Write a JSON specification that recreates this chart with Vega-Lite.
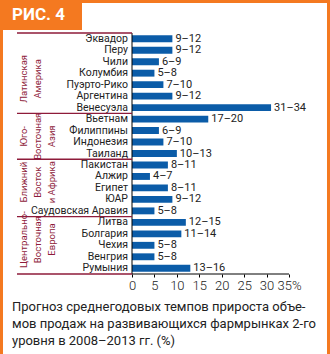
{
  "$schema": "https://vega.github.io/schema/vega-lite/v6.json",
  "background": "white",
  "padding": 0,
  "spacing": 0,
  "config": {"view": {"stroke": null}, "font": "Roboto", "concat": {"spacing": 0}},
  "datasets": {
    "rows": [
      {"country": "Эквадор", "low": 9, "range": "9–12"},
      {"country": "Перу", "low": 9, "range": "9–12"},
      {"country": "Чили", "low": 6, "range": "6–9"},
      {"country": "Колумбия", "low": 5, "range": "5–8"},
      {"country": "Пуэрто-Рико", "low": 7, "range": "7–10"},
      {"country": "Аргентина", "low": 9, "range": "9–12"},
      {"country": "Венесуэла", "low": 31, "range": "31–34"},
      {"country": "Вьетнам", "low": 17, "range": "17–20"},
      {"country": "Филиппины", "low": 6, "range": "6–9"},
      {"country": "Индонезия", "low": 7, "range": "7–10"},
      {"country": "Таиланд", "low": 10, "range": "10–13"},
      {"country": "Пакистан", "low": 8, "range": "8–11"},
      {"country": "Алжир", "low": 4, "range": "4–7"},
      {"country": "Египет", "low": 8, "range": "8–11"},
      {"country": "ЮАР", "low": 9, "range": "9–12"},
      {"country": "Саудовская Аравия", "low": 5, "range": "5–8"},
      {"country": "Литва", "low": 12, "range": "12–15"},
      {"country": "Болгария", "low": 11, "range": "11–14"},
      {"country": "Чехия", "low": 5, "range": "5–8"},
      {"country": "Венгрия", "low": 5, "range": "5–8"},
      {"country": "Румыния", "low": 13, "range": "13–16"}
    ],
    "groups": [
      {"country": "Пуэрто-Рико", "group": "Латинская|Америка"},
      {"country": "Индонезия", "group": "Юго-|Восточная|Азия"},
      {"country": "Египет", "group": "Ближний|Восток|и Африка"},
      {"country": "Чехия", "group": "Центрально-|Восточная|Европа"}
    ],
    "starts": [
      {"country": "Эквадор"},
      {"country": "Вьетнам"},
      {"country": "Пакистан"},
      {"country": "Литва"}
    ],
    "last": [{"country": "Румыния"}]
  },
  "hconcat": [
    {
      "width": 3, "height": 354,
      "view": {"fill": "#F47920"},
      "data": {"values": [{}]},
      "mark": {"type": "text", "text": "", "fontSize": 1},
      "encoding": {}
    },
    {
      "spacing": 2,
      "vconcat": [
        {
          "spacing": 0,
          "hconcat": [
            {
              "width": 79, "height": 30,
              "view": {"fill": "#F47920"},
              "data": {"values": [{}]},
              "mark": {"type": "text", "text": "РИС. 4", "color": "white", "fontSize": 17, "fontWeight": "bold", "dx": -4},
              "encoding": {}
            },
            {
              "width": 245, "height": 3,
              "view": {"fill": "#F47920"},
              "data": {"values": [{}]},
              "mark": {"type": "text", "text": "", "fontSize": 1},
              "encoding": {}
            }
          ]
        },
        {
          "width": 324, "height": 241,
          "title": {
            "text": ["Прогноз среднегодовых темпов прироста объе-", "мов продаж на развивающихся фармрынках 2-го", "уровня в 2008–2013 гг. (%)"],
            "orient": "bottom", "anchor": "start", "fontSize": 13, "fontWeight": "normal",
            "lineHeight": 17, "offset": 9, "dx": 9, "color": "#222222", "font": "Roboto"
          },
          "layer": [
            {
              "data": {"name": "rows"},
              "mark": {"type": "bar", "height": {"band": 0.6}, "color": "#0B5CA8"},
              "encoding": {
                "y": {"field": "country", "type": "nominal", "axis": null,
                      "scale": {"domain": ["Эквадор","Перу","Чили","Колумбия","Пуэрто-Рико","Аргентина","Венесуэла","Вьетнам","Филиппины","Индонезия","Таиланд","Пакистан","Алжир","Египет","ЮАР","Саудовская Аравия","Литва","Болгария","Чехия","Венгрия","Румыния"], "paddingInner": 0, "paddingOuter": 0}},
                "x": {"field": "low", "type": "quantitative",
                      "scale": {"domain": [-28.76, 43.47], "nice": false, "zero": false},
                      "axis": {"values": [0, 5, 10, 15, 20, 25, 30, 35], "domain": false, "grid": false,
                               "ticks": true, "tickSize": 3, "tickColor": "#000000", "labelFontSize": 13,
                               "labelFontWeight": 300, "labelColor": "#222222", "labelPadding": 2, "title": null,
                               "labelExpr": "datum.value == 35 ? '35%' : datum.label"}}
              }
            },
            {
              "data": {"name": "rows"},
              "mark": {"type": "text", "align": "left", "dx": 3, "fontSize": 11, "color": "#222222"},
              "encoding": {
                "y": {"field": "country", "type": "nominal"},
                "x": {"field": "low", "type": "quantitative"},
                "text": {"field": "range"}
              }
            },
            {
              "data": {"name": "rows"},
              "mark": {"type": "text", "align": "right", "dx": -4, "fontSize": 10.5, "color": "#222222"},
              "encoding": {
                "y": {"field": "country", "type": "nominal"},
                "x": {"datum": 0},
                "text": {"field": "country"}
              }
            },
            {
              "data": {"values": [{}]},
              "mark": {"type": "rule", "color": "#000000", "strokeWidth": 1},
              "encoding": {"x": {"datum": 0}}
            },
            {
              "data": {"name": "starts"},
              "mark": {"type": "rule", "color": "#8E1B3A", "strokeWidth": 1.3},
              "encoding": {
                "y": {"field": "country", "type": "nominal", "bandPosition": 0},
                "x": {"datum": -25.64},
                "x2": {"datum": 0}
              }
            },
            {
              "data": {"name": "last"},
              "mark": {"type": "rule", "color": "#8E1B3A", "strokeWidth": 1.3},
              "encoding": {
                "y": {"field": "country", "type": "nominal", "bandPosition": 1},
                "x": {"datum": -25.64},
                "x2": {"datum": 0}
              }
            },
            {
              "data": {"name": "last"},
              "mark": {"type": "rule", "color": "#000000", "strokeWidth": 1},
              "encoding": {
                "y": {"field": "country", "type": "nominal", "bandPosition": 1},
                "x": {"datum": 0},
                "x2": {"datum": 35}
              }
            },
            {
              "data": {"name": "groups"},
              "mark": {"type": "text", "angle": 270, "align": "center", "baseline": "top", "lineBreak": "|",
                       "fontSize": 9.5, "lineHeight": 14, "color": "#8E1B3A"},
              "encoding": {
                "y": {"field": "country", "type": "nominal", "bandPosition": 0},
                "x": {"datum": -25.19},
                "text": {"field": "group"}
              }
            }
          ]
        }
      ]
    },
    {
      "width": 3, "height": 354,
      "view": {"fill": "#F47920"},
      "data": {"values": [{}]},
      "mark": {"type": "text", "text": "", "fontSize": 1},
      "encoding": {}
    }
  ]
}
